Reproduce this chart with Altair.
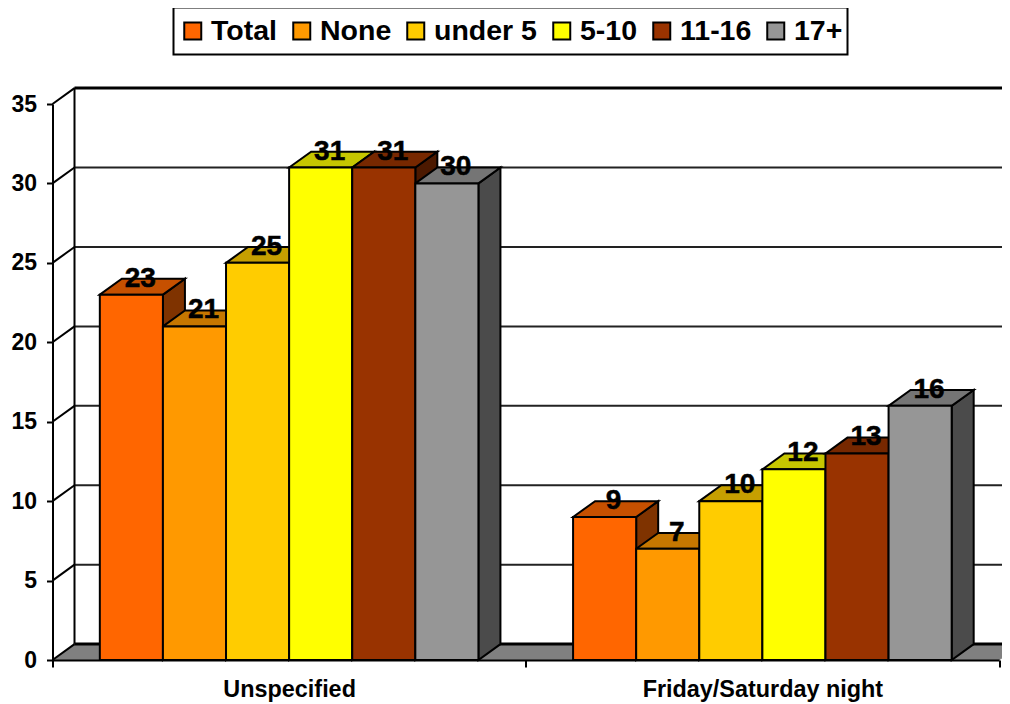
import altair as alt
import pandas as pd

categories = ["Unspecified", "Friday/Saturday night"]
series = ["Total", "None", "under 5", "5-10", "11-16", "17+"]
unspecified = [23, 21, 25, 31, 31, 30]
friday_saturday = [9, 7, 10, 12, 13, 16]
y_ticks = [0, 5, 10, 15, 20, 25, 30, 35]
front_colors = ["#FF6600", "#FF9900", "#FFCC00", "#FFFF00", "#993300", "#969696"]
top_colors = ["#C65000", "#C67700", "#C69F00", "#C6C600", "#772800", "#757575"]
side_colors = ["#7F3300", "#7F4C00", "#7F6600", "#7F7F00", "#4C1900", "#4B4B4B"]

DX = 0.0465   # depth of the 3D box, in category units
DY = 1.0      # depth of the 3D box, in value units
BW = 1 / 7.5  # bar width, in category units
FONT = "Liberation Sans"

fronts, tops, sides = [], [], []
for c, vals in enumerate([unspecified, friday_saturday]):
    for i, v in enumerate(vals):
        x0 = c + 0.75 * BW + i * BW
        x1 = x0 + BW
        key = f"{c}-{i}"
        fronts.append(dict(series=series[i], x0=x0, x1=x1, v=v, xc=(x0 + x1) / 2, base=0))
        for x, hi, lo in [(x0, v, v), (x0 + DX, v + DY, v), (x1, v + DY, v), (x1 + DX, v + DY, v + DY)]:
            tops.append(dict(key=key, shade=top_colors[i], x=x, hi=hi, lo=lo))
        for x, hi, lo in [(x1, v, 0), (x1 + DX, v + DY, DY)]:
            sides.append(dict(key=key, shade=side_colors[i], x=x, hi=hi, lo=lo))

fronts = pd.DataFrame(fronts)
tops = pd.DataFrame(tops)
sides = pd.DataFrame(sides)
floor = pd.DataFrame(dict(x=[0, DX, 2, 2 + DX], hi=[0, DY, DY, DY], lo=[0, 0, 0, DY]))
ticks = pd.DataFrame(dict(t=y_ticks, tb=[t + DY for t in y_ticks], xa=[0] * 8, xb=[DX] * 8, xe=[2 + DX] * 8))
wall = pd.DataFrame(dict(x=[DX], y=[DY], y2=[35 + DY]))
edges = pd.DataFrame(dict(x=[DX, DX], x2=[2 + DX, 2 + DX], y=[DY, 35 + DY]))

xs = alt.Scale(domain=[0, 2], nice=False, zero=False)
ys = alt.Scale(domain=[0, 35], nice=False, zero=False)

x_axis = alt.Axis(
    title=None, grid=False, values=[0, 0.5, 1, 1.5, 2], zindex=1,
    labelExpr="datum.value==0.5?'Unspecified':datum.value==1.5?'Friday/Saturday night':''",
    tickOpacity=alt.expr("datum.value==0.5||datum.value==1.5?0:1"),
    labelFont=FONT, labelFontWeight="bold", labelFontSize=23.4, labelColor="black",
    labelPadding=11, labelOverlap=False, labelFlush=False, labelAngle=0, labelLimit=400,
    tickSize=7, tickWidth=2, tickColor="black", domainColor="black", domainWidth=2,
)
y_axis = alt.Axis(
    title=None, grid=False, values=y_ticks, zindex=1,
    labelFont=FONT, labelFontWeight="bold", labelFontSize=23, labelColor="black",
    labelPadding=10, labelOverlap=False, labelFlush=False,
    tickSize=6, tickWidth=2, tickColor="black", domainColor="black", domainWidth=2,
)

grid = alt.Chart(ticks).mark_rule(color="#222222", strokeWidth=2).encode(
    x=alt.X("xb:Q", scale=xs, axis=x_axis), x2="xe:Q",
    y=alt.Y("tb:Q", scale=ys, axis=y_axis),
)
diagonals = alt.Chart(ticks).mark_rule(color="black", strokeWidth=2).encode(
    x=alt.X("xa:Q", scale=xs), x2="xb:Q",
    y=alt.Y("t:Q", scale=ys), y2="tb:Q",
)
wall_left = alt.Chart(wall).mark_rule(color="black", strokeWidth=2).encode(
    x=alt.X("x:Q", scale=xs), y=alt.Y("y:Q", scale=ys), y2="y2:Q",
)
floor_area = alt.Chart(floor).mark_area(color="#808080", stroke="#808080", strokeWidth=1).encode(
    x=alt.X("x:Q", scale=xs), y=alt.Y("hi:Q", scale=ys), y2="lo:Q",
)
wall_edges = alt.Chart(edges).mark_rule(color="black", strokeWidth=3).encode(
    x=alt.X("x:Q", scale=xs), x2="x2:Q", y=alt.Y("y:Q", scale=ys),
)
side_faces = alt.Chart(sides).mark_area(stroke="black", strokeWidth=2, strokeJoin="miter").encode(
    x=alt.X("x:Q", scale=xs), y=alt.Y("hi:Q", scale=ys), y2="lo:Q",
    color=alt.Color("shade:N", scale=None), detail="key:N",
)
top_faces = alt.Chart(tops).mark_area(stroke="black", strokeWidth=2, strokeJoin="miter").encode(
    x=alt.X("x:Q", scale=xs), y=alt.Y("hi:Q", scale=ys), y2="lo:Q",
    color=alt.Color("shade:N", scale=None), detail="key:N",
)
front_faces = alt.Chart(fronts).mark_bar(stroke="black", strokeWidth=2, cornerRadius=0).encode(
    x=alt.X("x0:Q", scale=xs), x2="x1:Q",
    y=alt.Y("v:Q", scale=ys), y2="base:Q",
    color=alt.Color(
        "series:N",
        sort=series,
        scale=alt.Scale(domain=series, range=front_colors),
        legend=alt.Legend(
            title=None, orient="none", legendX=121, legendY=-96.5, direction="horizontal", columns=6,
            fillColor="white", strokeColor="black", padding=5, clipHeight=37,
            symbolType="square", symbolSize=289, symbolStrokeColor="black", symbolStrokeWidth=2,
            symbolOpacity=1, labelFont=FONT, labelFontWeight="bold", labelFontSize=28.5, labelColor="black",
            labelOffset=4, columnPadding=10, labelLimit=200,
        ),
    ),
)
labels = alt.Chart(fronts).mark_text(
    font=FONT, fontWeight="bold", fontSize=28, color="black", stroke="black", strokeWidth=0.5,
    baseline="alphabetic", dx=9, dy=-8,
).encode(
    x=alt.X("xc:Q", scale=xs), y=alt.Y("v:Q", scale=ys), text=alt.Text("v:Q"),
)

chart = alt.layer(
    grid, wall_left, floor_area, diagonals, wall_edges, side_faces, top_faces, front_faces, labels
).resolve_scale(color="independent").properties(
    width=946.5, height=556,
    padding={"left": 44.5, "top": 96, "right": 3, "bottom": 44},
    autosize=alt.AutoSizeParams(type="none"),
    background="white",
).configure_view(stroke=None).configure_legend(strokeWidth=2)

chart.save("out.html", embed_options={"renderer": "svg", "actions": False})
